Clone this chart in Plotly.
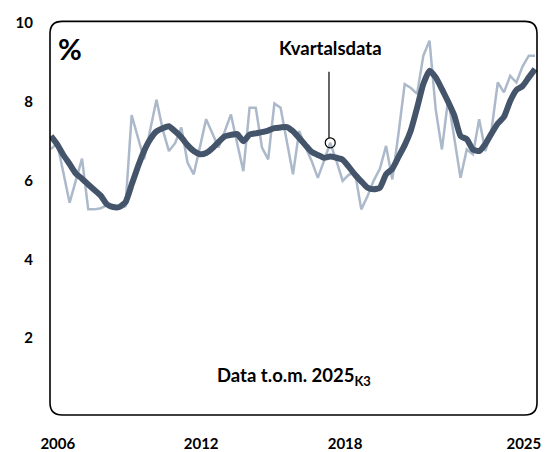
import plotly.graph_objects as go

# quarterly series 2006Q1 .. 2025Q3 (index 0..78)
quarters = list(range(79))

kvartal = [
    6.80, 6.95, 6.20, 5.44, 6.00, 6.56, 5.27, 5.27, 5.30, 5.37,
    5.30, 5.30, 5.35, 7.66, 7.10, 6.54, 7.30, 8.05, 7.30, 6.75,
    6.95, 7.35, 6.46, 6.16, 6.85, 7.56, 7.20, 6.84, 7.25, 7.68,
    6.95, 6.24, 7.85, 7.85, 6.84, 6.54, 7.96, 7.85, 7.00, 6.16,
    7.26, 6.85, 6.50, 6.07, 6.50, 6.96, 6.50, 5.99, 6.15, 6.20,
    5.27, 5.60, 6.00, 6.30, 6.88, 6.03, 7.20, 8.45, 8.35, 8.20,
    9.17, 9.55, 7.80, 6.79, 8.07, 7.05, 6.07, 6.79, 6.67, 7.56,
    6.75, 7.30, 8.49, 8.24, 8.66, 8.49, 8.90, 9.17, 9.17,
]

trend = [
    7.13, 6.92, 6.65, 6.42, 6.18, 6.05, 5.90, 5.76, 5.62, 5.40,
    5.33, 5.33, 5.45, 5.90, 6.35, 6.75, 7.05, 7.25, 7.33, 7.38,
    7.25, 7.10, 6.90, 6.75, 6.67, 6.70, 6.82, 6.98, 7.12, 7.16,
    7.18, 7.00, 7.17, 7.20, 7.23, 7.27, 7.33, 7.35, 7.36, 7.25,
    7.08, 6.90, 6.73, 6.65, 6.58, 6.61, 6.58, 6.53, 6.35, 6.15,
    5.98, 5.82, 5.78, 5.82, 6.16, 6.30, 6.60, 6.90, 7.28, 7.85,
    8.45, 8.79, 8.62, 8.32, 8.00, 7.65, 7.13, 7.05, 6.79, 6.75,
    6.93, 7.20, 7.45, 7.62, 8.02, 8.30, 8.40, 8.62, 8.83,
]

x_tickvals = [1.1, 24.2, 47.4, 76.2]
x_ticktext = ["2006", "2012", "2018", "2025"]
y_tickvals = [2, 4, 6, 8, 10]

pointer_idx = 45  # "Kvartalsdata" callout

LIGHT = "#ACB9CA"
DARK = "#44546A"
FONT = "Lato"

fig = go.Figure()

fig.add_trace(go.Scatter(
    x=quarters, y=kvartal, mode="lines",
    line=dict(color=LIGHT, width=2.5),
    hoverinfo="skip",
))
fig.add_trace(go.Scatter(
    x=quarters, y=trend, mode="lines",
    line=dict(color=DARK, width=6, shape="spline", smoothing=0.5),
    hoverinfo="skip",
))
fig.add_trace(go.Scatter(
    x=[pointer_idx], y=[kvartal[pointer_idx]], mode="markers",
    marker=dict(symbol="circle-open", size=10, color="black",
                line=dict(width=1.2, color="black")),
    hoverinfo="skip",
))

# leader line for the callout
fig.add_shape(
    type="line", xref="x", yref="y",
    x0=pointer_idx - 0.2, x1=pointer_idx - 0.2,
    y0=kvartal[pointer_idx] + 0.12, y1=8.76,
    line=dict(color="black", width=1.2),
)

# rounded frame around plot area
rx, ry = 0.025, 0.031
top, bot, lft, rgt = 1.004, 0.005, 0.0, 1.0
frame = (
    f"M {lft + rx},{top} L {rgt - rx},{top} Q {rgt},{top} {rgt},{top - ry} "
    f"L {rgt},{bot + ry} Q {rgt},{bot} {rgt - rx},{bot} "
    f"L {lft + rx},{bot} Q {lft},{bot} {lft},{bot + ry} "
    f"L {lft},{top - ry} Q {lft},{top} {lft + rx},{top} Z"
)
fig.add_shape(type="path", xref="paper", yref="paper", path=frame,
              line=dict(color="black", width=1.6), layer="above")

fig.add_annotation(
    x=0.012, y=0.985, xref="paper", yref="paper",
    text="%", showarrow=False, xanchor="left", yanchor="top",
    font=dict(size=29, color="black", family=FONT, weight="bold"),
)
fig.add_annotation(
    x=pointer_idx, y=9.37, xref="x", yref="y",
    text="Kvartalsdata", showarrow=False,
    font=dict(size=18.5, color="black", family=FONT, weight="bold"),
)
fig.add_annotation(
    x=0.501, y=0.066, xref="paper", yref="paper",
    text="Data t.o.m. 2025<sub>K3</sub>", showarrow=False,
    font=dict(size=18.5, color="black", family=FONT, weight="bold"),
)

fig.update_layout(
    width=548, height=452,
    margin=dict(l=50, r=11, t=23, b=35),
    paper_bgcolor="white", plot_bgcolor="white",
    showlegend=False,
    font=dict(family=FONT, size=15, color="black", weight="bold"),
)
fig.update_xaxes(
    range=[-0.16, 78.32], tickvals=x_tickvals, ticktext=x_ticktext,
    showgrid=False, zeroline=False, showline=False, ticks="",
    ticklabelstandoff=16, automargin=False,
)
fig.update_yaxes(
    range=[0, 10], tickvals=y_tickvals,
    showgrid=False, zeroline=False, showline=False, ticks="",
    ticklabelstandoff=16, automargin=False,
)

# drop the default page margin so the 548x452 figure fills the window
fig.write_html(
    "out.html",
    config={"displayModeBar": False},
    post_script="document.body.style.margin='0';",
)
